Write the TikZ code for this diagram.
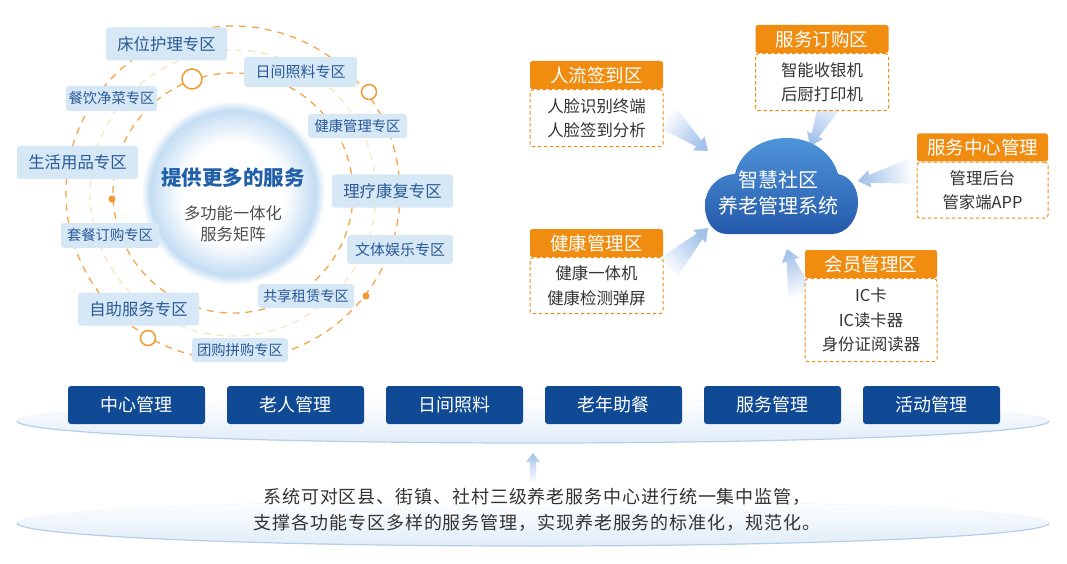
\documentclass[tikz,border=0pt]{standalone}
\usepackage{fontspec}
\setmainfont{Noto Sans CJK SC}
\newfontfamily\notefont{Noto Sans CJK SC}[LetterSpace=5]
\usetikzlibrary{positioning,calc}

\definecolor{zonefill}{HTML}{D6E7F6}
\definecolor{zonetext}{HTML}{2A5A96}
\definecolor{ringorange}{HTML}{F5A54A}
\definecolor{ringpale}{HTML}{FBE3C6}
\definecolor{markorange}{HTML}{F39A2E}
\definecolor{headorange}{HTML}{F08C10}
\definecolor{bodytext}{HTML}{333333}
\definecolor{titleblue}{HTML}{2160A8}
\definecolor{subgray}{HTML}{4D4D4D}
\definecolor{btnblue}{HTML}{104A94}
\definecolor{cloudtop}{HTML}{4F95DA}
\definecolor{cloudbot}{HTML}{2459AA}
\definecolor{arrowblue}{HTML}{A3C2EA}
\definecolor{platfill}{HTML}{E0ECF8}
\definecolor{platline}{HTML}{B5CFEA}
\definecolor{platfaint}{HTML}{F1F6FC}
\definecolor{hubrim}{HTML}{C4DDF3}

\pgfdeclareradialshading{hubglow}{\pgfpoint{0bp}{0bp}}{color(0bp)=(white); color(14bp)=(white); color(22.5bp)=(hubrim); color(25bp)=(white); color(50bp)=(white)}

% panah pudar: ekor, ujung, sudut gradasi
\newcommand\softarrow[3]{%
    \shade[top color=arrowblue, bottom color=white, shading angle=#3]
        (#2) -- ($(#2)!12pt!(#1)!9pt!90:(#1)$) -- ($(#2)!12pt!(#1)!4pt!90:(#1)$)
        -- ($(#1)!13pt!-90:(#2)$) -- ($(#1)!13pt!90:(#2)$)
        -- ($(#2)!12pt!(#1)!4pt!-90:(#1)$) -- ($(#2)!12pt!(#1)!9pt!-90:(#1)$) -- cycle;}

\begin{document}
\begin{tikzpicture}[x=1pt, y=-1pt,
    zone/.style={fill=zonefill, text=zonetext, rounded corners=3pt, inner sep=0pt},
    zonebig/.style={zone, minimum height=33, font=\fontsize{16.4}{18}\selectfont},
    zonemid/.style={zone, minimum height=30, font=\fontsize{15}{17}\selectfont},
    zonesmall/.style={zone, minimum height=25, font=\fontsize{14.3}{16}\selectfont},
    headbox/.style={fill=headorange, text=white, rounded corners=2.5pt, minimum width=133,
        minimum height=28, inner sep=0pt, font=\fontsize{18.5}{20}\selectfont},
    bodybox/.style={draw=headorange, dash pattern=on 3.5pt off 2.5pt, line width=1pt, fill=white,
        rounded corners=3pt, minimum width=133, inner sep=0pt, align=center, text=bodytext,
        font=\fontsize{16.4}{24.5}\selectfont},
    btn/.style={fill=btnblue, text=white, rounded corners=3pt, minimum width=137,
        minimum height=38, inner sep=0pt, font=\fontsize{18}{20}\selectfont},
    ring/.style={ringorange, line width=1.3pt, dash pattern=on 7pt off 6pt},
    marker/.style={markorange, line width=1.5pt, fill=white},
]
    \fill[white] (0,0) rectangle (1067,564);
    \useasboundingbox (0,0) rectangle (1067,564);

    % Alas bawah
    \shade[top color=white, bottom color=platfill] (533,421) ellipse (516 and 22);
    \draw[platfaint, line width=0.6pt] (17,421) arc (180:360:516 and 22);
    \draw[platline, line width=1.2pt] (1049,421) arc (0:180:516 and 22);
    \shade[top color=white, bottom color=platfill] (533,523) ellipse (516 and 23);
    \draw[platfaint, line width=0.6pt] (17,523) arc (180:360:516 and 23);
    \draw[platline, line width=1.2pt] (1049,523) arc (0:180:516 and 23);

    % Tombol modul
    \foreach \txt [count=\i] in {中心管理,老人管理,日间照料,老年助餐,服务管理,活动管理} {
        \node[btn] (btn\i) at ({136.5+(\i-1)*159},405) {\txt};
    }

    % Keterangan sistem
    \node[text=bodytext, align=center, font=\notefont\fontsize{18}{26}\selectfont] (note) at (537,510)
        {系统可对区县、街镇、社村三级养老服务中心进行统一集中监管，\\支撑各功能专区多样的服务管理，实现养老服务的标准化，规范化。};
    \coordinate (uptail) at (533,483);
    \coordinate (uptip) at (533,453);
    \shade[top color=arrowblue, bottom color=white]
        (uptip) -- ++(7,9) -- ++(-4,0) -- ($(uptail)+(3,0)$) -- ($(uptail)+(-3,0)$)
        -- ++(0,-21) -- ++(-4,0) -- cycle;

    % Lingkaran layanan
    \node[circle, minimum size=184, inner sep=0pt, shade, shading=hubglow] (hub) at (233,193) {};
    \draw[ring] (hub.center) circle (167);
    \draw[ring, ringpale] (hub.center) circle (143);
    \draw[ring] (hub.center) circle (120);
    \draw[marker] (192,79) circle (10);
    \draw[marker] (369,92) circle (7.5);
    \draw[marker] (148,338) circle (7.5);
    \fill[markorange] (112,199) circle (3.5);
    \fill[markorange] (366,296) circle (3.5);
    \node[text=titleblue, font=\bfseries\fontsize{20.5}{22}\selectfont] (hubtitle) at (233,178) {提供更多的服务};
    \node[text=subgray, align=center, font=\fontsize{16.3}{21}\selectfont] (hubsub) at (233,223.5) {多功能一体化\\服务矩阵};

    % Label zona
    \node[zonebig, minimum width=121] (bed) at (166.5,44) {床位护理专区};
    \node[zonemid, minimum width=113] (daycare) at (300.5,72) {日间照料专区};
    \node[zonesmall, minimum width=91] (meal) at (111.5,98.5) {餐饮净菜专区};
    \node[zonesmall, minimum width=99, minimum height=24] (health) at (357.5,126) {健康管理专区};
    \node[zonebig, minimum width=121] (goods) at (77.5,162.5) {生活用品专区};
    \node[zonebig, minimum width=121] (rehab) at (392.5,191) {理疗康复专区};
    \node[zonesmall, minimum width=98] (setmeal) at (110,235.5) {套餐订购专区};
    \node[zonemid, minimum width=106, minimum height=29] (leisure) at (400,249.5) {文体娱乐专区};
    \node[zonebig, minimum width=121] (selfserve) at (138.5,309) {自助服务专区};
    \node[zonesmall, minimum width=96, minimum height=24] (rent) at (306,296) {共享租赁专区};
    \node[zonesmall, minimum width=96, minimum height=24] (groupbuy) at (240,350) {团购拼购专区};

    % Panah ke awan
    \coordinate (aout1) at (668,118);  \coordinate (cin1) at (708,151);
    \coordinate (aout2) at (833,98);   \coordinate (cin2) at (810,146);
    \coordinate (aout3) at (913,171);  \coordinate (cin3) at (858,181);
    \coordinate (aout4) at (668,268);  \coordinate (cin4) at (708,228);
    \coordinate (aout5) at (801,295);  \coordinate (cin5) at (787,249);
    \softarrow{aout1}{cin1}{-129.5}
    \softarrow{aout2}{cin2}{154.4}
    \softarrow{aout3}{cin3}{100.3}
    \softarrow{aout4}{cin4}{-45}
    \softarrow{aout5}{cin5}{16.9}

    % Awan pusat
    \shade[top color=cloudtop, bottom color=cloudbot]
        (727,234) .. controls (714,234) and (705,222) .. (705,206)
        .. controls (705,188) and (718,175) .. (735,174)
        .. controls (740,153) and (760,138) .. (787,138)
        .. controls (812,138) and (832,153) .. (838,174)
        .. controls (850,176) and (858,188) .. (858,202)
        .. controls (858,220) and (846,234) .. (832,234) -- cycle;
    \node[text=white, align=center, font=\fontsize{20}{26}\selectfont] (cloud) at (778,193) {智慧社区\\养老管理系统};

    % Kotak fungsi
    \node[headbox] (sign) at (596.5,75) {人流签到区};
    \node[bodybox, minimum height=57, below=0pt of sign] (signb) {人脸识别终端\\人脸签到分析};
    \node[headbox] (buy) at (822,39) {服务订购区};
    \node[bodybox, minimum height=57, below=0pt of buy] (buyb) {智能收银机\\后厨打印机};
    \node[headbox, minimum width=131] (center) at (982.5,147.5) {服务中心管理};
    \node[bodybox, minimum width=131, minimum height=56, below=0pt of center] (centerb) {管理后台\\管家端APP};
    \node[headbox] (checkup) at (596.5,243) {健康管理区};
    \node[bodybox, minimum height=56, below=0pt of checkup] (checkupb) {健康一体机\\健康检测弹屏};
    \node[headbox, minimum width=132] (member) at (871,264) {会员管理区};
    \node[bodybox, minimum width=132, minimum height=83, below=0pt of member] (memberb) {IC卡\\IC读卡器\\身份证阅读器};

\end{tikzpicture}
\end{document}
